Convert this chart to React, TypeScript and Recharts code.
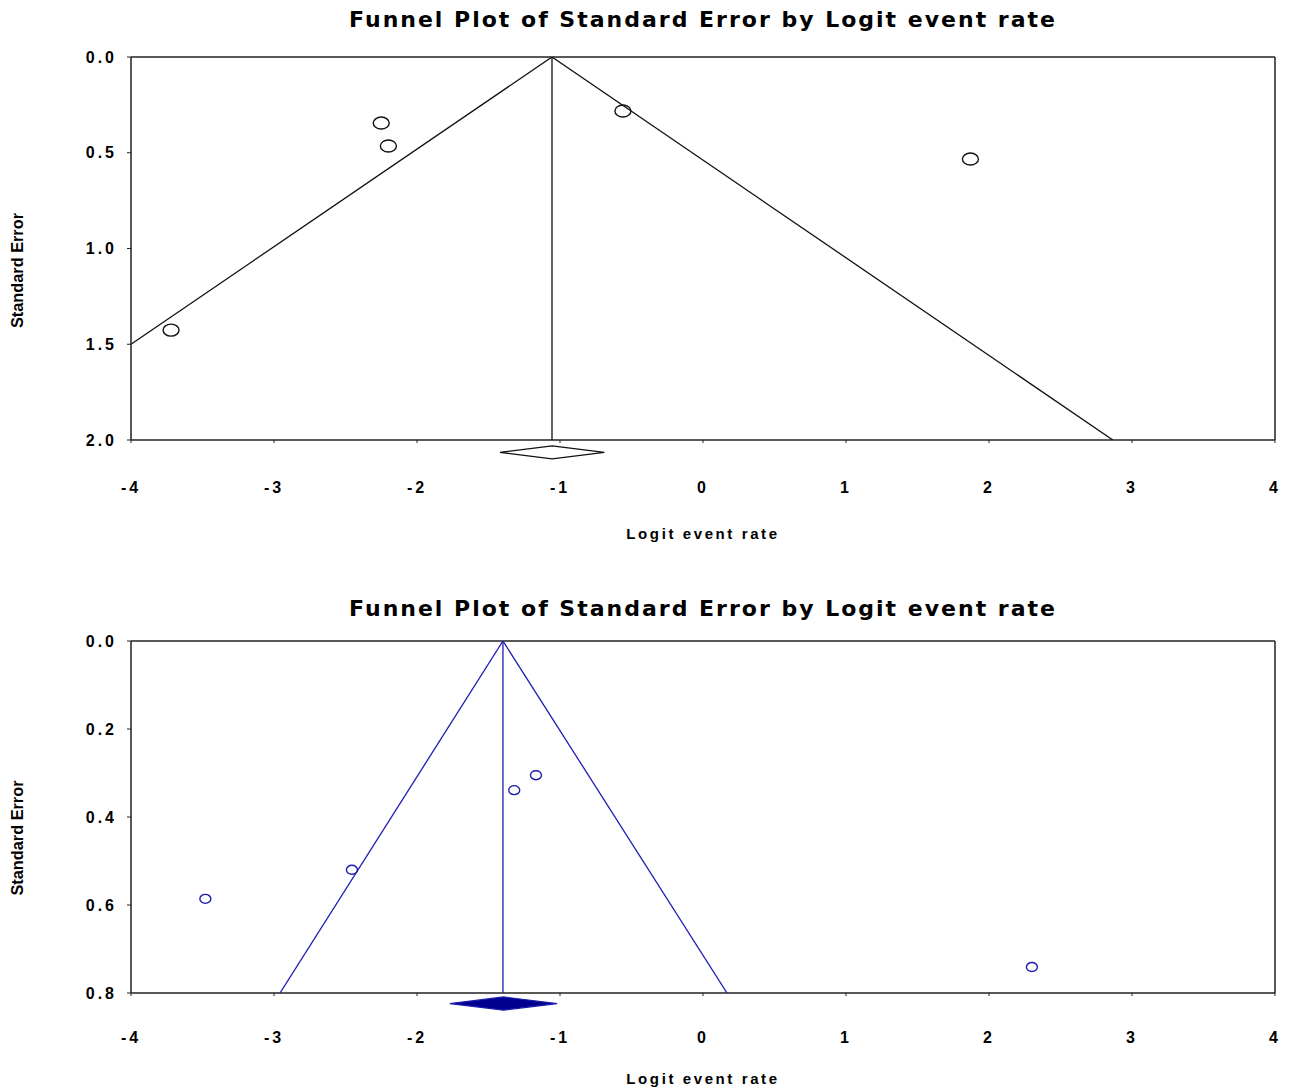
import React from 'react';
import {
  ScatterChart,
  Scatter,
  XAxis,
  YAxis,
  ReferenceLine,
  ReferenceArea,
  Label,
} from 'recharts';

// shared x axis
const xTicks = [-4, -3, -2, -1, 0, 1, 2, 3, 4];

// top plot (black)
const topStudyRate = [-2.25, -2.2, -0.56, 1.87, -3.72];
const topStudySE = [0.345, 0.465, 0.282, 0.533, 1.426];
const topYTicks = [0, 0.5, 1, 1.5, 2];
const topLeftEdge = [{ x: -1.056, y: 0 }, { x: -4, y: 1.5 }];
const topRightEdge = [{ x: -1.056, y: 0 }, { x: 2.866, y: 2 }];
const topCenter = [{ x: -1.056, y: 0 }, { x: -1.056, y: 2 }];
const topDiamond = { lo: -1.42, hi: -0.69, seTop: 2.031, seBottom: 2.099 };

// bottom plot (blue)
const botStudyRate = [-3.48, -2.455, -1.32, -1.168, 2.3];
const botStudySE = [0.586, 0.52, 0.339, 0.305, 0.741];
const botYTicks = [0, 0.2, 0.4, 0.6, 0.8];
const botLeftEdge = [{ x: -1.399, y: 0 }, { x: -2.958, y: 0.8 }];
const botRightEdge = [{ x: -1.399, y: 0 }, { x: 0.168, y: 0.8 }];
const botCenter = [{ x: -1.399, y: 0 }, { x: -1.399, y: 0.8 }];
const botDiamond = { lo: -1.77, hi: -1.02, seTop: 0.809, seBottom: 0.839 };

const FONT = '"Liberation Sans", Arial, sans-serif';
const TITLE_FONT = '"DejaVu Sans", Verdana, sans-serif';
const BLUE = '#1c1cb0';

const noShape = () => <g />;

const diamondShape = (fill: string, stroke: string) => (p: any) => {
  const { x, y, width, height } = p;
  const cx = x + width / 2;
  const cy = y + height / 2;
  return (
    <polygon
      points={`${x},${cy} ${cx},${y} ${x + width},${cy} ${cx},${y + height}`}
      fill={fill}
      stroke={stroke}
      strokeWidth={1.2}
    />
  );
};

const ellipse = (rx: number, ry: number, color: string) => (p: any) => (
  <ellipse cx={p.cx} cy={p.cy} rx={rx} ry={ry} fill="none" stroke={color} strokeWidth={1.4} />
);

const yLabel = (shift: number) => (props: any) => {
  const vb = props.viewBox;
  const cx = 17;
  const cy = vb.y + vb.height / 2 + shift;
  return (
    <text
      x={cx}
      y={cy}
      transform={`rotate(-90, ${cx}, ${cy})`}
      textAnchor="middle"
      dominantBaseline="central"
      fontFamily={FONT}
      fontWeight="bold"
      fontSize={16}
      textLength={115}
      lengthAdjust="spacingAndGlyphs"
      fill="#000"
    >
      Standard Error
    </text>
  );
};

interface PlotProps {
  height: number;
  top: number;
  axisH: number;
  labelOffset: number;
  yTicks: number[];
  yMax: number;
  rate: number[];
  se: number[];
  left: { x: number; y: number }[];
  right: { x: number; y: number }[];
  center: { x: number; y: number }[];
  diamond: { lo: number; hi: number; seTop: number; seBottom: number };
  color: string;
  diamondFill: string;
  rx: number;
  ry: number;
  labelShift: number;
}

function Funnel(p: PlotProps) {
  const points = p.rate.map((r, i) => ({ x: r, y: p.se[i] }));
  const tickStyle = { fill: '#000', fontSize: 16, fontWeight: 'bold', fontFamily: FONT, letterSpacing: 3 };
  return (
    <ScatterChart width={1290} height={p.height} margin={{ top: p.top, right: 15, bottom: 0, left: 0 }}>
      <XAxis
        type="number"
        dataKey="x"
        domain={[-4, 4]}
        ticks={xTicks}
        allowDataOverflow
        height={p.axisH}
        tickSize={3}
        tickMargin={p.top > 60 ? 36 : 39}
        axisLine={{ stroke: '#222', strokeWidth: 1.5 }}
        tickLine={{ stroke: '#222' }}
        tick={tickStyle}
      >
        <Label
          value="Logit event rate"
          position="insideTop"
          offset={p.labelOffset}
          style={{ fontFamily: FONT, fontWeight: 'bold', fontSize: 15, letterSpacing: 2.6, fill: '#000' }}
        />
      </XAxis>
      <YAxis
        type="number"
        dataKey="y"
        reversed
        domain={[0, p.yMax]}
        ticks={p.yTicks}
        allowDataOverflow
        width={131}
        tickSize={4}
        tickMargin={10}
        tickFormatter={(v: number) => v.toFixed(1)}
        axisLine={{ stroke: '#222', strokeWidth: 1.5 }}
        tickLine={{ stroke: '#222' }}
        tick={tickStyle}
      >
        <Label content={yLabel(p.labelShift)} />
      </YAxis>
      <ReferenceLine y={0} stroke="#222" strokeWidth={1.5} />
      <ReferenceLine x={4} stroke="#222" strokeWidth={1.5} />
      <Scatter data={p.left} line={{ stroke: p.color, strokeWidth: 1.3 }} shape={noShape} isAnimationActive={false} />
      <Scatter data={p.right} line={{ stroke: p.color, strokeWidth: 1.3 }} shape={noShape} isAnimationActive={false} />
      <Scatter data={p.center} line={{ stroke: p.color, strokeWidth: 1.3 }} shape={noShape} isAnimationActive={false} />
      <Scatter data={points} shape={ellipse(p.rx, p.ry, p.color)} isAnimationActive={false} />
      <ReferenceArea
        x1={p.diamond.lo}
        x2={p.diamond.hi}
        y1={p.diamond.seTop}
        y2={p.diamond.seBottom}
        ifOverflow="visible"
        shape={diamondShape(p.diamondFill, p.color)}
      />
    </ScatterChart>
  );
}

const titleStyle: React.CSSProperties = {
  position: 'absolute',
  left: 131,
  width: 1144,
  textAlign: 'center',
  fontFamily: TITLE_FONT,
  fontWeight: 'bold',
  fontSize: 22,
  letterSpacing: 2,
  lineHeight: '26px',
  color: '#000',
};

export default function App() {
  return (
    <div style={{ position: 'absolute', left: 0, top: 0, width: 1290, height: 1088, background: '#fff' }}>
      <div style={{ position: 'absolute', left: 0, top: 0 }}>
        <Funnel
          height={560}
          top={57}
          axisH={120}
          labelOffset={88}
          yTicks={topYTicks}
          yMax={2}
          rate={topStudyRate}
          se={topStudySE}
          left={topLeftEdge}
          right={topRightEdge}
          center={topCenter}
          diamond={topDiamond}
          color="#111"
          diamondFill="#fff"
          rx={8}
          ry={6}
          labelShift={22}
        />
      </div>
      <div style={{ position: 'absolute', left: 0, top: 560 }}>
        <Funnel
          height={528}
          top={81}
          axisH={95}
          labelOffset={80}
          yTicks={botYTicks}
          yMax={0.8}
          rate={botStudyRate}
          se={botStudySE}
          left={botLeftEdge}
          right={botRightEdge}
          center={botCenter}
          diamond={botDiamond}
          color={BLUE}
          diamondFill="#00008f"
          rx={5.5}
          ry={4.5}
          labelShift={21}
        />
      </div>
      <div style={{ ...titleStyle, top: 7 }}>Funnel Plot of Standard Error by Logit event rate</div>
      <div style={{ ...titleStyle, top: 596 }}>Funnel Plot of Standard Error by Logit event rate</div>
    </div>
  );
}
